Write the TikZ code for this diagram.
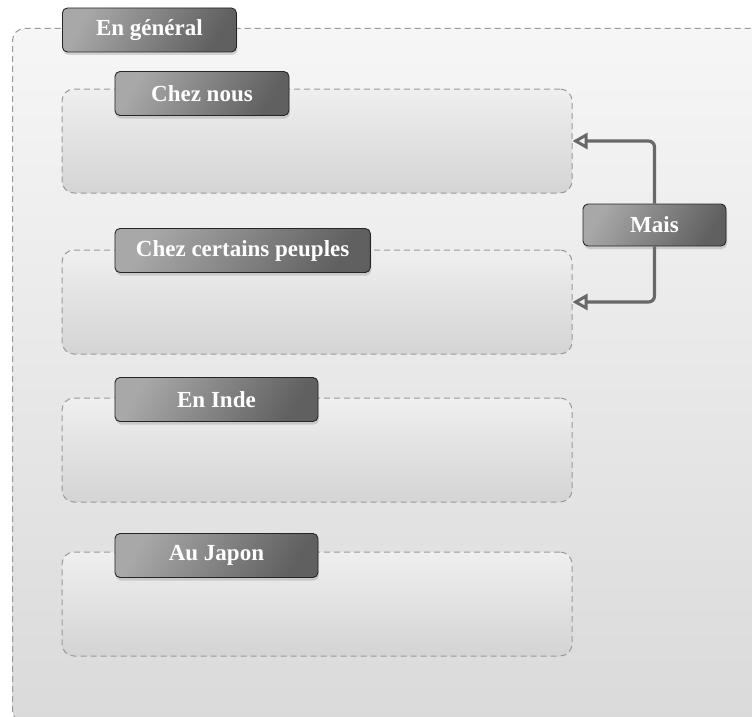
\documentclass[tikz,border=0pt]{standalone}
\usepackage{fontspec}
\setmainfont{Liberation Serif}
\usetikzlibrary{arrows.meta,positioning,shadows}

\definecolor{headlight}{HTML}{A8A8A8}
\definecolor{headdark}{HTML}{606060}
\definecolor{zonetop}{HTML}{EFEFEF}
\definecolor{zonebot}{HTML}{D4D4D4}
\definecolor{outertop}{HTML}{F6F6F6}
\definecolor{outerbot}{HTML}{DADADA}
\definecolor{zoneline}{HTML}{9A9A9A}
\definecolor{linkgray}{HTML}{686868}

\begin{document}
\begin{tikzpicture}[
  x=1pt,y=-1pt,
  font=\bfseries\fontsize{23}{27}\selectfont,
  zone/.style={draw=zoneline,dash pattern=on 6pt off 4pt,line width=1pt,rounded corners=12pt,
    top color=zonetop,bottom color=zonebot,minimum width=510pt,minimum height=104pt,inner sep=0pt},
  head/.style={draw=black!85,line width=0.9pt,rounded corners=5pt,left color=headlight,right color=headdark,
    shading angle=60,text=white,minimum width=174pt,minimum height=44pt,inner xsep=21pt,
    drop shadow={shadow xshift=1pt,shadow yshift=-3pt,opacity=0.3}},
  link/.style={-{Triangle[open,length=15pt 0,width=16pt 0,line width=3pt]},line width=3.2pt,draw=linkgray,rounded corners=6pt}
]
\useasboundingbox (0,0) rectangle (752,717);
\clip (0,0) rectangle (752,717);

% outer frame
\node[zone,anchor=north west,minimum width=790pt,minimum height=694pt,
  top color=outertop,bottom color=outerbot] (general) at (12,28) {};

% inner frames
\node[zone] (nous) at (317,141) {};
\node[zone] (certains) at (317,302) {};
\node[zone] (inde) at (317,450) {};
\node[zone] (japon) at (317,604) {};

% titles
\node[head,anchor=west] (hgeneral) at ([xshift=50pt,yshift=-2pt]general.north west) {En général};
\node[head,anchor=west] (hnous) at ([xshift=53pt,yshift=-5pt]nous.north west) {Chez nous};
\node[head,anchor=west] (hcertains) at ([xshift=53pt,yshift=-1pt]certains.north west) {Chez certains peuples};
\node[head,anchor=west,minimum width=203pt] (hinde) at ([xshift=53pt,yshift=-2pt]inde.north west) {En Inde};
\node[head,anchor=west,minimum width=203pt] (hjapon) at ([xshift=53pt,yshift=-4pt]japon.north west) {Au Japon};

\node[head,minimum width=143pt,minimum height=42pt] (mais) at (654.5,225) {Mais};

\draw[link] (mais.north) |- (nous.east);
\draw[link] (mais.south) |- (certains.east);
\end{tikzpicture}
\end{document}
